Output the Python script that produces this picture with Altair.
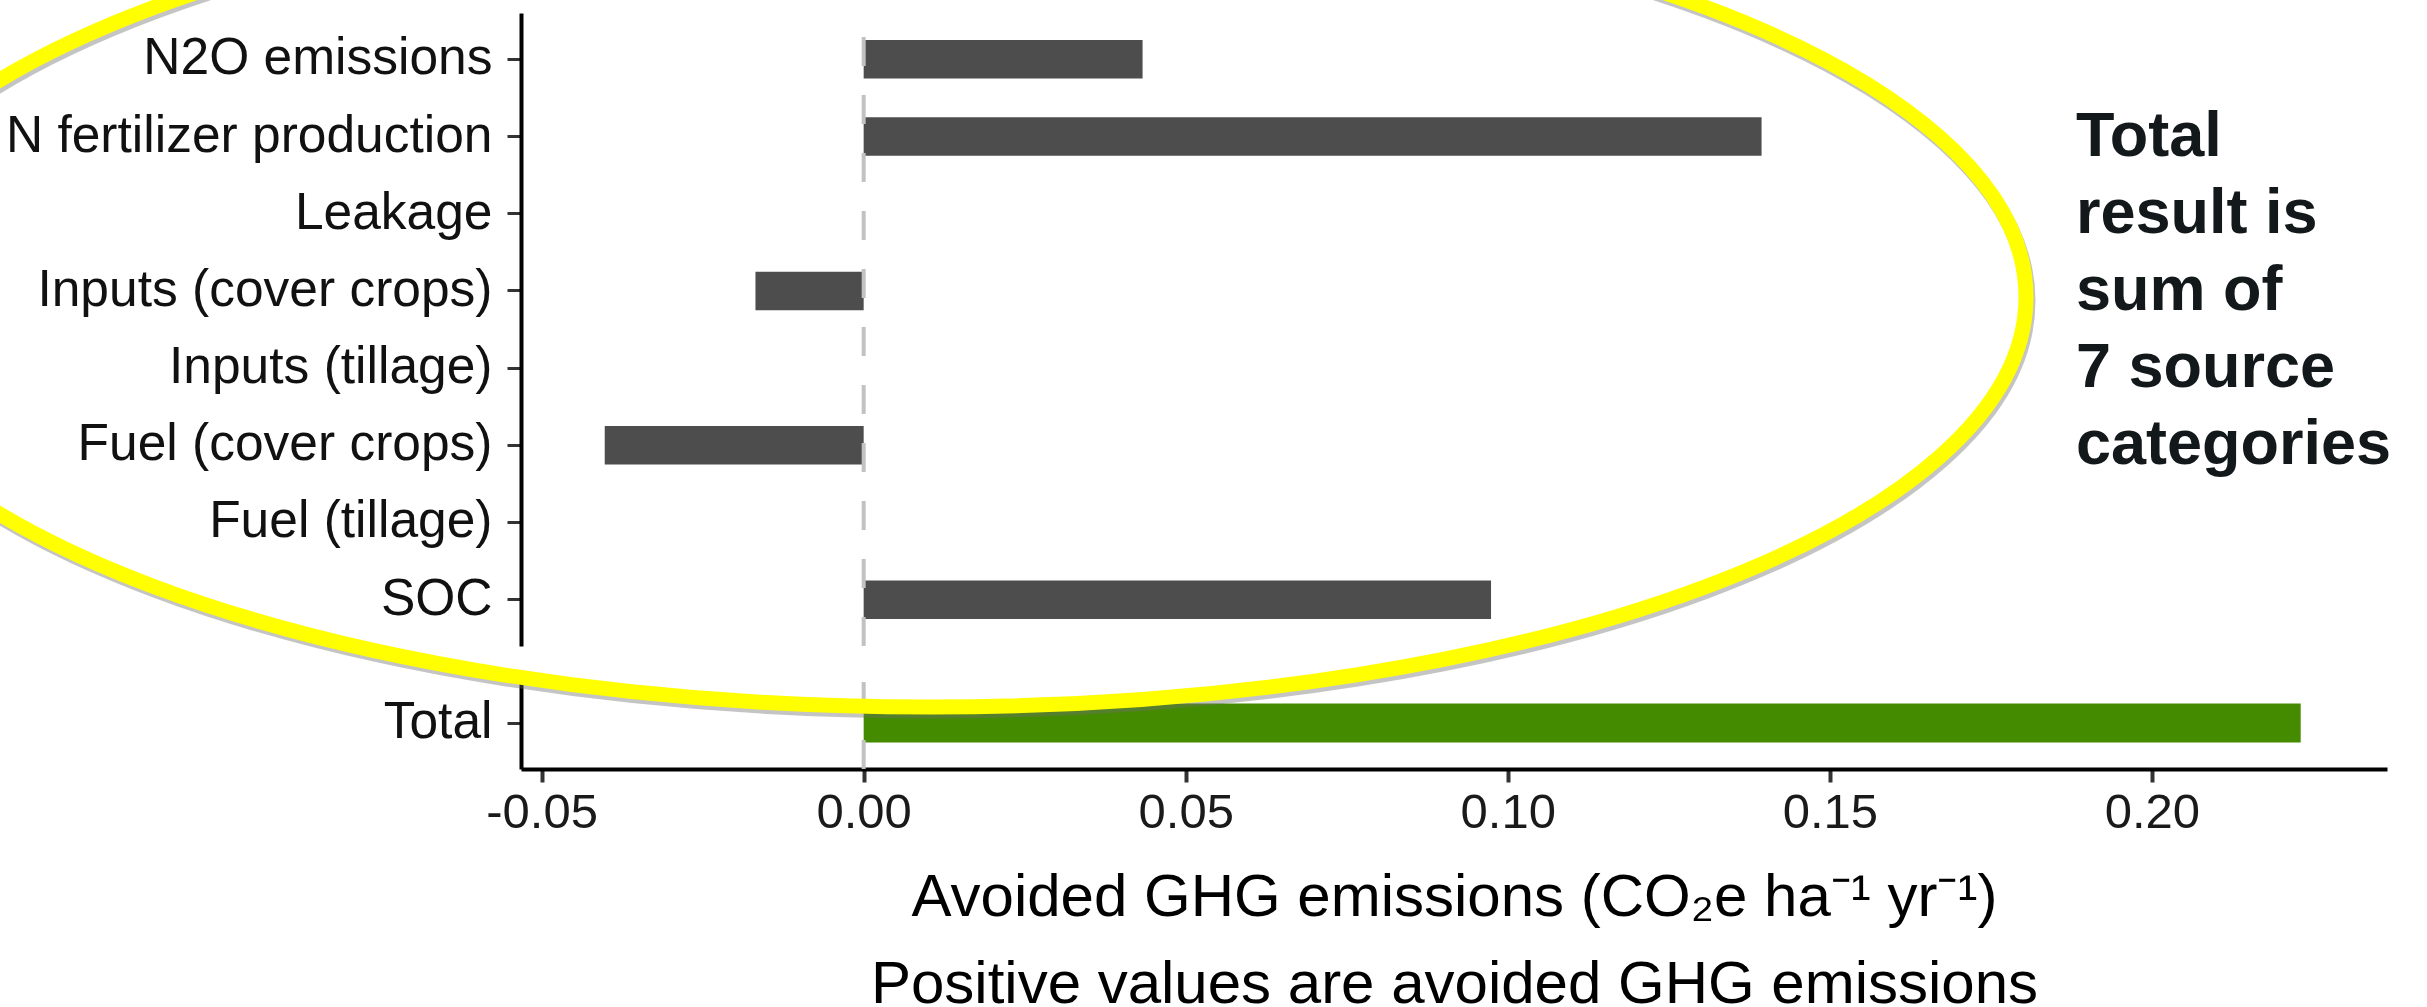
import altair as alt
import pandas as pd

# ---------------- data ----------------
CATEGORIES = [
    "N2O emissions",
    "N fertilizer production",
    "Leakage",
    "Inputs (cover crops)",
    "Inputs (tillage)",
    "Fuel (cover crops)",
    "Fuel (tillage)",
    "SOC",
]
VALUES = [0.0433, 0.1394, 0.0, -0.0168, 0.0, -0.0402, 0.0, 0.0974]
TOTAL_LABEL = ["Total"]
TOTAL_VALUE = [0.2231]
ZERO = [0.0]
X_TICKS = [-0.05, 0.0, 0.05, 0.10, 0.15, 0.20]
X_DOMAIN = [-0.0532, 0.2365]
AXIS_TITLE = [
    "Avoided GHG emissions (CO\u2082e ha\u207b\u00b9 yr\u207b\u00b9)",
    "Positive values are avoided GHG emissions",
]
NOTE_LINES = ["Total", "result is", "sum of", "7 source", "categories"]

# ---------------- style ----------------
FONT = "Liberation Sans"
W = 1866
H_TOP = 633
H_BOT = 92
GAP = 31
BAR_GREY = "#4d4d4d"
BAR_GREEN = "#458b00"
DASH_GREY = "#c2c2c2"
PAD_L, PAD_T = 521, 13
PAD_R = 2427 - PAD_L - W
PAD_B = 1007 - PAD_T

# ellipse outline shape (unit path, scaled by symbol size)
RX, RY = 1096, 410
B = RY / RX
K = 0.5523
ELLIPSE = (
    f"M -1 0 C -1 {-K*B:.4f} {-K:.4f} {-B:.4f} 0 {-B:.4f} "
    f"C {K:.4f} {-B:.4f} 1 {-K*B:.4f} 1 0 "
    f"C 1 {K*B:.4f} {K:.4f} {B:.4f} 0 {B:.4f} "
    f"C {-K:.4f} {B:.4f} -1 {K*B:.4f} -1 0 Z"
)
ELLIPSE_SIZE = (2 * RX) ** 2
ELL_X, ELL_Y = 930 - PAD_L, 297 - (PAD_T + H_TOP + GAP)

src = pd.DataFrame({"category": CATEGORIES, "value": VALUES})
tot = pd.DataFrame({"category": TOTAL_LABEL, "value": TOTAL_VALUE})
zero = pd.DataFrame({"zero": ZERO})

xscale = alt.Scale(domain=X_DOMAIN, nice=False, zero=False)


def yenc(domain):
    return alt.Y(
        "category:N",
        sort=domain,
        scale=alt.Scale(domain=domain, paddingInner=0, paddingOuter=0.1),
        axis=alt.Axis(
            title=None,
            labelFont=FONT,
            labelFontSize=51.5,
            labelColor="#111111",
            labelPadding=15,
            labelLimit=1000,
            tickSize=14,
            tickWidth=3,
            tickColor="#333333",
            domainColor="#000000",
            domainWidth=4,
        ),
    )


# ---------------- top panel (sources) ----------------
bars_top = alt.Chart(src).mark_bar(size=38.5, color=BAR_GREY).encode(
    x=alt.X("value:Q", scale=xscale, axis=None),
    x2=alt.datum(0),
    y=yenc(CATEGORIES),
)
rule_top = alt.Chart(zero).mark_rule(
    color=DASH_GREY, strokeWidth=4, strokeDash=[29, 29]
).encode(
    x=alt.X("zero:Q", scale=xscale, axis=None),
    y=alt.value(H_TOP),
    y2=alt.value(0),
)
top = alt.layer(bars_top, rule_top).properties(width=W, height=H_TOP)

# ---------------- bottom panel (total) ----------------
x_axis = alt.Axis(
    values=X_TICKS,
    labelExpr="replace(format(datum.value, '.2f'), '\u2212', '-')",
    labelFont=FONT,
    labelFontSize=49,
    labelColor="#1a1a1a",
    labelPadding=6,
    tickSize=13,
    tickWidth=4,
    tickColor="#333333",
    domainColor="#000000",
    domainWidth=4,
    grid=False,
    title=AXIS_TITLE,
    titleFont=FONT,
    titleFontSize=60,
    titleFontWeight="normal",
    titleColor="#000000",
    titleLineHeight=87,
    titleBaseline="alphabetic",
    titleY=146,
)
bars_bot = alt.Chart(tot).mark_bar(size=39, color=BAR_GREEN).encode(
    x=alt.X("value:Q", scale=xscale, axis=x_axis),
    x2=alt.datum(0),
    y=yenc(TOTAL_LABEL),
)
rule_bot = alt.Chart(zero).mark_rule(
    color=DASH_GREY, strokeWidth=4, strokeDash=[29, 29]
).encode(
    x=alt.X("zero:Q", scale=xscale),
    y=alt.value(H_BOT),
    y2=alt.value(0),
)
shadow = alt.Chart(zero).mark_point(
    shape=ELLIPSE, size=ELLIPSE_SIZE, filled=False, color="#6e6e6e",
    strokeWidth=15, opacity=0.4,
).encode(x=alt.value(ELL_X + 2), y=alt.value(ELL_Y + 4))
ellipse = alt.Chart(zero).mark_point(
    shape=ELLIPSE, size=ELLIPSE_SIZE, filled=False, color="#ffff00",
    strokeWidth=15, opacity=1,
).encode(x=alt.value(ELL_X), y=alt.value(ELL_Y))
note = alt.Chart(zero).mark_text(
    text=NOTE_LINES, font=FONT, fontSize=63, fontWeight="bold",
    color="#13181b", align="left", baseline="alphabetic", lineHeight=77,
).encode(x=alt.value(1555), y=alt.value(156 - (PAD_T + H_TOP + GAP)))

bottom = alt.layer(bars_bot, rule_bot, shadow, ellipse, note).properties(
    width=W, height=H_BOT
)

chart = (
    alt.vconcat(top, bottom, spacing=GAP, bounds="flush")
    .properties(
        padding={"left": PAD_L, "top": PAD_T, "right": PAD_R, "bottom": PAD_B},
        autosize=alt.AutoSizeParams(type="none"),
        background="white",
    )
    .configure_view(stroke=None)
)

chart.save("out.html", embed_options={"renderer": "svg", "actions": False})
